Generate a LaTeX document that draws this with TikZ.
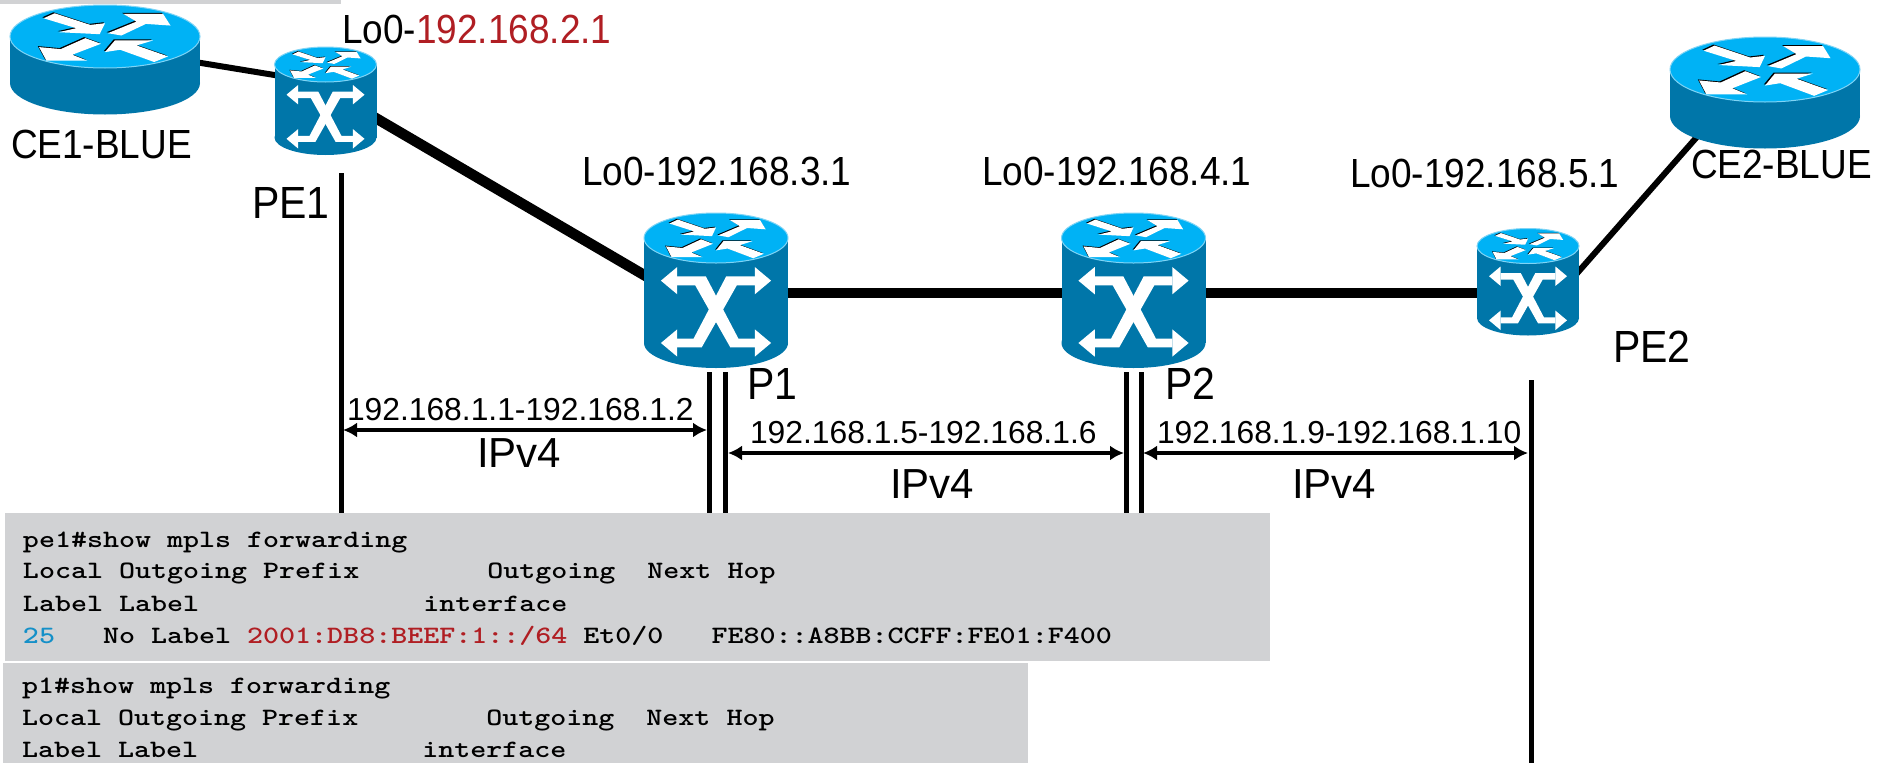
\documentclass[tikz,border=0pt]{standalone}
\usepackage{fontspec}
\setmainfont{Liberation Sans}
\usetikzlibrary{arrows.meta}
\definecolor{cistop}{HTML}{00B2F5}
\definecolor{cisside}{HTML}{0076A9}
\definecolor{cisedge}{HTML}{7FD4F5}
\definecolor{boxgrey}{HTML}{D1D2D4}
\definecolor{labred}{HTML}{B01E23}
\definecolor{labblue}{HTML}{1590C8}
\newcommand{\lblfont}{\fontsize{37}{40}\selectfont}
\newcommand{\biglblfont}{\fontsize{41}{44}\selectfont}
\newcommand{\ipfont}{\fontsize{31.8}{36}\selectfont}
\newcommand{\ipvfont}{\fontsize{42}{46}\selectfont}
\newcommand{\tall}[1]{\scalebox{1}[1.1]{#1}}
\newcommand{\cli}[1]{\scalebox{1}[0.82]{\fontsize{30.5}{32}\selectfont\ttfamily\bfseries\addfontfeature{FakeBold=0.4} #1}}
\tikzset{
  x=1pt,y=-1pt,
  iconbox/.style={inner sep=0pt,outer sep=0pt,rectangle,minimum width=#1},
  lbl/.style={anchor=base west,inner sep=0pt,outer sep=0pt,font=\lblfont},
  biglbl/.style={anchor=base west,inner sep=0pt,outer sep=0pt,font=\biglblfont},
  iplbl/.style={anchor=base west,inner sep=0pt,outer sep=0pt,font=\ipfont},
  ipvlbl/.style={anchor=base west,inner sep=0pt,outer sep=0pt,font=\ipvfont},
  clilbl/.style={anchor=base west,inner sep=0pt,outer sep=0pt},
  thicklink/.style={line width=10.5pt},
  thinlink/.style={line width=6pt},
  vline/.style={line width=5pt},
  dim/.style={line width=4.5pt,{Latex[length=14pt,width=15pt]}-{Latex[length=14pt,width=15pt]}},
  greybox/.style={fill=boxgrey,draw=none},
}
% body of a cylinder: centre x, top-ellipse centre y, rx, ry, body height
\newcommand{\cylbody}[5]{%
  \begin{scope}[shift={(#1,#2)}]
    \fill[cisside] (0,#5) ellipse [x radius=#3,y radius=#4];
    \fill[cisside] (-#3,0) rectangle (#3,#5);
    \fill[cistop,draw=cisedge,line width=1pt] (0,0) ellipse [x radius=#3,y radius=#4];
  \end{scope}}
% four router arrows on the top ellipse
\newcommand{\rarrows}{%
  (108,55) -- (135,40) -- (222,75) -- (258,70) -- (245,103) -- (145,97) -- (188,85) -- cycle
  (265,100) -- (335,65) -- (303,42) -- (400,42) -- (418,77) -- (358,72) -- (298,107) -- cycle
  (248,132) -- (210,115) -- (150,148) -- (97,142) -- (115,183) -- (215,183) -- (178,165) -- cycle
  (412,170) -- (378,187) -- (295,150) -- (258,157) -- (282,122) -- (375,122) -- (335,137) -- cycle}
\newcommand{\topdeco}[4]{%
  \begin{scope}[shift={(#1,#2)},xscale=#3/232,yscale=#4/95,shift={(-258,-110)}]
    \fill[black,shift={(-3,-3)}] \rarrows;
    \fill[white] \rarrows;
  \end{scope}}
% switch crossing on the body: cx, top cy, uniform scale
\newcommand{\swdeco}[3]{%
  \begin{scope}[shift={(#1,#2)},scale=#3,xscale=0.408,yscale=0.3333,shift={(-283,-203)}]
    \fill[white] (188,318) -- (258,318) -- (338,505) -- (378,505) -- (378,531) -- (318,531) -- (232,345) -- (188,345) -- cycle;
    \fill[white] (378,318) -- (308,318) -- (228,505) -- (188,505) -- (188,531) -- (248,531) -- (334,345) -- (378,345) -- cycle;
    \fill[white] (148,331) -- (188,290) -- (188,372) -- cycle;
    \fill[white] (418,331) -- (378,290) -- (378,372) -- cycle;
    \fill[white] (148,518) -- (188,477) -- (188,559) -- cycle;
    \fill[white] (418,518) -- (378,477) -- (378,559) -- cycle;
  \end{scope}}
\newcommand{\routerart}[4]{\cylbody{#1}{#2}{#3}{#4}{46.5}\topdeco{#1}{#2}{#3}{#4}}
\newcommand{\switchart}[5]{\cylbody{#1}{#2}{#3}{#4}{#5}\topdeco{#1}{#2}{#3}{#4}}
\begin{document}
\begin{tikzpicture}
\useasboundingbox (0,0) rectangle (1892,763);
\fill[white] (0,0) rectangle (1892,763);
% top strip
\node[greybox,inner sep=0pt,minimum width=341pt,minimum height=4pt,anchor=north west] (strip) at (0,0) {};
% icon anchors
\node[iconbox=190pt,minimum height=110pt] (ce1) at (105,60) {};
\node[iconbox=102pt,minimum height=108pt] (pe1) at (325.5,101) {};
\node[iconbox=144pt,minimum height=155pt] (p1) at (716,290.5) {};
\node[iconbox=144pt,minimum height=155pt] (p2) at (1133.5,290.5) {};
\node[iconbox=102pt,minimum height=108pt] (pe2) at (1528,282) {};
\node[iconbox=190pt,minimum height=110pt] (ce2) at (1765,92) {};
% connectors
\draw[thinlink] ([shift={(90,2)}]ce1.center) -- ([shift={(-45,-25)}]pe1.center);
\draw[thicklink] ([shift={(45,14)}]pe1.center) -- ([shift={(-66,-12)}]p1.center);
\draw[thicklink] ([shift={(0,2.5)}]p1.center) -- ([shift={(0,2.5)}]p2.center);
\draw[thicklink] ([shift={(0,2.5)}]p2.center) -- ([shift={(-10,11)}]pe2.center);
\draw[thinlink] ([shift={(44,-3)}]pe2.center) -- ([shift={(-62,38)}]ce2.center);
% icons
\routerart{105}{36.5}{95}{31.5}
\switchart{325.5}{64.5}{51}{17.5}{73}
\swdeco{325.5}{64.5}{0.708}
\switchart{716}{238}{72}{25}{105}
\swdeco{716}{238}{1}
\switchart{1133.5}{238}{72}{25}{105}
\swdeco{1133.5}{238}{1}
\switchart{1528}{246}{51}{17.5}{72}
\swdeco{1528}{246}{0.708}
\routerart{1765}{69.5}{95}{32.5}
% interface drops
\coordinate (v1t) at (341,173);  \coordinate (v1b) at (341,520);
\coordinate (v2t) at (709,372);  \coordinate (v2b) at (709,520);
\coordinate (v3t) at (725,372);  \coordinate (v3b) at (725,520);
\coordinate (v4t) at (1126,372); \coordinate (v4b) at (1126,520);
\coordinate (v5t) at (1141,372); \coordinate (v5b) at (1141,520);
\coordinate (v6t) at (1531,380); \coordinate (v6b) at (1531,763);
\foreach \n in {1,...,6} \draw[vline] (v\n t) -- (v\n b);
% measure arrows
\coordinate (a1l) at (343,430); \coordinate (a1r) at (707,430);
\coordinate (a2l) at (728,453); \coordinate (a2r) at (1124,453);
\coordinate (a3l) at (1143,453); \coordinate (a3r) at (1528,453);
\draw[dim] (a1l) -- (a1r);
\draw[dim] (a2l) -- (a2r);
\draw[dim] (a3l) -- (a3r);
% labels
\node[lbl] (lce1) at (11,158) {\tall{CE1-BLUE}};
\node[biglbl] (lpe1) at (252,218) {\tall{PE1}};
\node[lbl] (llo1) at (342,43) {\tall{Lo0-\textcolor{labred}{192.168.2.1}}};
\node[lbl] (llo3) at (582,185) {\tall{Lo0-192.168.3.1}};
\node[lbl] (llo4) at (982,185) {\tall{Lo0-192.168.4.1}};
\node[lbl] (llo5) at (1350,187) {\tall{Lo0-192.168.5.1}};
\node[lbl] (lce2) at (1691,178) {\tall{CE2-BLUE}};
\node[biglbl] (lpe2) at (1613,362) {\tall{PE2}};
\node[biglbl] (lp1) at (747,399) {\tall{P1}};
\node[biglbl] (lp2) at (1165,399) {\tall{P2}};
\node[iplbl] (ip1) at (347,420) {192.168.1.1-192.168.1.2};
\node[iplbl] (ip2) at (750,443) {192.168.1.5-192.168.1.6};
\node[iplbl] (ip3) at (1157,443) {192.168.1.9-192.168.1.10};
\node[ipvlbl] (v4a) at (477,467) {IPv4};
\node[ipvlbl] (v4b) at (890,498) {IPv4};
\node[ipvlbl] (v4c) at (1292,498) {IPv4};
% CLI panels
\node[greybox,inner sep=0pt,minimum width=1265pt,minimum height=148pt,anchor=north west] (box1) at (5,513) {};
\node[greybox,inner sep=0pt,minimum width=1025pt,minimum height=100pt,anchor=north west] (box2) at (3,663) {};
\node[clilbl] (c1) at (23,547) {\cli{pe1\#show mpls forwarding}};
\node[clilbl] (c2) at (23,578) {\cli{Local Outgoing Prefix~~~~~~~~Outgoing~~Next Hop}};
\node[clilbl] (c3) at (23,611) {\cli{Label Label~~~~~~~~~~~~~~interface}};
\node[clilbl] (c4) at (23,643) {\cli{\textcolor{labblue}{25}~~~No Label \textcolor{labred}{2001:DB8:BEEF:1::/64} Et0/0~~~FE80::A8BB:CCFF:FE01:F400}};
\node[clilbl] (d1) at (22,693) {\cli{p1\#show mpls forwarding}};
\node[clilbl] (d2) at (22,725) {\cli{Local Outgoing Prefix~~~~~~~~Outgoing~~Next Hop}};
\node[clilbl] (d3) at (22,757) {\cli{Label Label~~~~~~~~~~~~~~interface}};
\end{tikzpicture}
\end{document}
